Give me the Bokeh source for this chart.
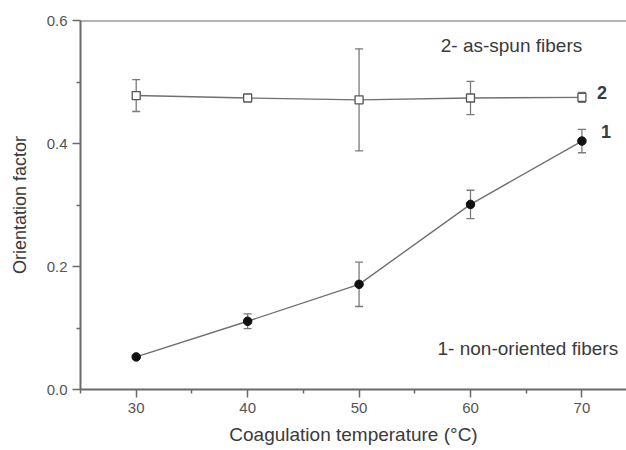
from bokeh.plotting import figure
from bokeh.models import Whisker, ColumnDataSource, Span, Label, FixedTicker
from bokeh.embed import file_html
from bokeh.resources import INLINE

temps = [30, 40, 50, 60, 70]
nonoriented = [0.053, 0.111, 0.171, 0.301, 0.404]
nonoriented_err = [0.0, 0.012, 0.036, 0.023, 0.019]
asspun = [0.478, 0.474, 0.471, 0.474, 0.475]
asspun_err = [0.026, 0.005, 0.083, 0.027, 0.008]
x_major = [30, 40, 50, 60, 70]
x_minor = [25, 35, 45, 55, 65, 75]
y_major = [0.0, 0.2, 0.4, 0.6]
y_minor = [0.1, 0.3, 0.5]

FONT = "Liberation Sans"
AXC = "#6a6a6a"
TXT = "#3a3a3a"

p = figure(width=626, height=450, output_backend="svg", toolbar_location=None,
           x_range=(25, 74.0), y_range=(0.0, 0.6),
           min_border_left=80, min_border_right=0, min_border_top=20, min_border_bottom=61)
p.outline_line_color = None
p.grid.visible = False
p.background_fill_color = "white"

for ax in (p.xaxis[0], p.yaxis[0]):
    ax.axis_line_color = AXC
    ax.axis_line_width = 2
    ax.major_tick_line_color = AXC
    ax.minor_tick_line_color = AXC
    ax.major_tick_line_width = 1.5
    ax.minor_tick_line_width = 1.5
    ax.major_tick_out = 8
    ax.major_tick_in = 0
    ax.minor_tick_out = 4
    ax.minor_tick_in = 0
    ax.major_label_text_font = FONT
    ax.major_label_text_font_size = "15px"
    ax.major_label_text_color = "#555555"
    ax.axis_label_text_font = FONT
    ax.axis_label_text_font_style = "normal"
    ax.axis_label_text_color = TXT

p.xaxis.ticker = FixedTicker(ticks=x_major, minor_ticks=x_minor)
p.yaxis.ticker = FixedTicker(ticks=y_major, minor_ticks=y_minor)
p.yaxis.major_label_overrides = {0.0: "0.0", 0.2: "0.2", 0.4: "0.4", 0.6: "0.6"}
p.xaxis.axis_label = "Coagulation temperature (°C)"
p.yaxis.axis_label = "Orientation factor"
p.xaxis.axis_label_text_font_size = "19px"
p.yaxis.axis_label_text_font_size = "18px"
p.xaxis.major_label_standoff = 5
p.yaxis.major_label_standoff = 5
p.xaxis.axis_label_standoff = 8
p.yaxis.axis_label_standoff = 14

p.add_layout(Span(location=0.6, dimension="width", line_color=AXC, line_width=2))

src1 = ColumnDataSource(dict(x=temps, y=nonoriented,
                             lo=[v - e for v, e in zip(nonoriented, nonoriented_err)],
                             hi=[v + e for v, e in zip(nonoriented, nonoriented_err)]))
src2 = ColumnDataSource(dict(x=temps, y=asspun,
                             lo=[v - e for v, e in zip(asspun, asspun_err)],
                             hi=[v + e for v, e in zip(asspun, asspun_err)]))

for src in (src1, src2):
    w = Whisker(source=src, base="x", lower="lo", upper="hi",
                line_color="#7a7a7a", line_width=1.3, level="underlay")
    for h in (w.upper_head, w.lower_head):
        h.size = 8
        h.line_color = "#7a7a7a"
        h.line_width = 1.3
    p.add_layout(w)

p.line("x", "y", source=src2, line_color="#707070", line_width=1.4)
p.line("x", "y", source=src1, line_color="#707070", line_width=1.4)
p.scatter("x", "y", source=src2, marker="square", size=8, fill_color="white",
          line_color="#555555", line_width=1.3)
p.scatter("x", "y", source=src1, marker="circle", size=8.5, fill_color="#111111",
          line_color="#111111")

p.add_layout(Label(x=temps[-1], y=asspun[-1], x_offset=15, y_offset=-2, text="2",
                   text_font=FONT, text_font_size="18px", text_color=TXT,
                   text_font_style="bold"))
p.add_layout(Label(x=temps[-1], y=nonoriented[-1], x_offset=19, y_offset=3, text="1",
                   text_font=FONT, text_font_size="18px", text_color=TXT,
                   text_font_style="bold"))
p.add_layout(Label(x=70.5, y=0.559, text="2-  as-spun fibers", text_align="right",
                   text_baseline="alphabetic",
                   text_font=FONT, text_font_size="19px", text_color=TXT))
p.add_layout(Label(x=73.25, y=0.066, text="1- non-oriented fibers", text_align="right",
                   text_baseline="alphabetic",
                   text_font=FONT, text_font_size="19px", text_color=TXT))

open("out.html", "w").write(file_html(p, INLINE))
